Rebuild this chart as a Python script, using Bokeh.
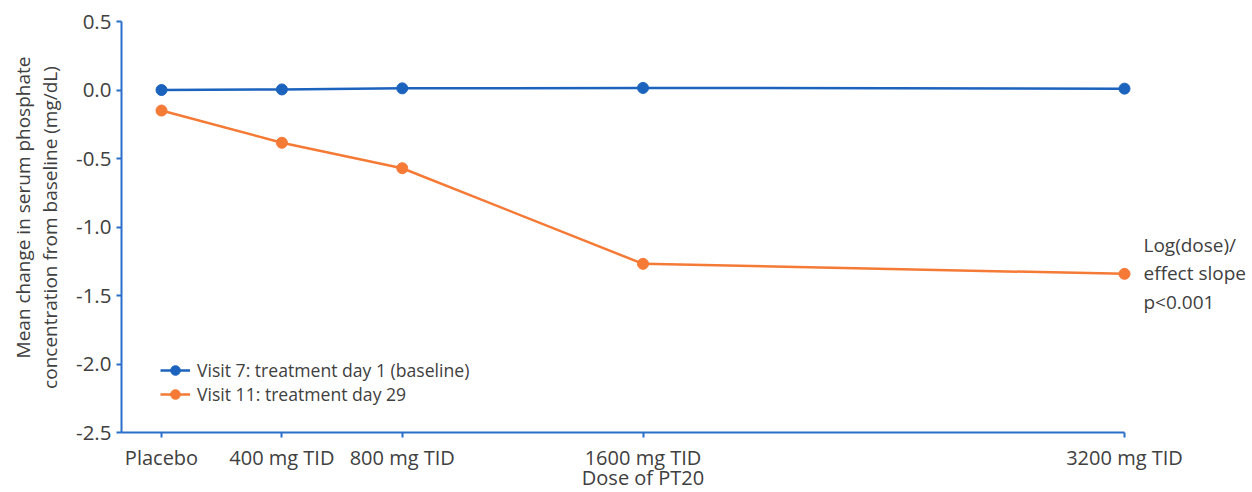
import math
from bokeh.plotting import figure
from bokeh.models import FixedTicker, Label, Legend, LegendItem, Range1d
from bokeh.embed import file_html
from bokeh.resources import INLINE

doses = [0, 400, 800, 1600, 3200]
tick_labels = ["Placebo", "400 mg TID", "800 mg TID", "1600 mg TID", "3200 mg TID"]
visit7 = [0.0, 0.004, 0.012, 0.015, 0.01]
visit11 = [-0.15, -0.385, -0.571, -1.269, -1.342]
y_ticks = [0.5, 0.0, -0.5, -1.0, -1.5, -2.0, -2.5]
y_tick_labels = ["0.5", "0.0", "-0.5", "-1.0", "-1.5", "-2.0", "-2.5"]
series_names = ["Visit 7: treatment day 1 (baseline)", "Visit 11: treatment day 29"]
annotation = "Log(dose)/\neffect slope\np<0.001"
x_title = "Dose of PT20"
y_title_lines = ["Mean change in serum phosphate", "concentration from baseline (mg/dL)"]

BLUE = "#1c63bd"
AXIS_BLUE = "#2a6fca"
ORANGE = "#f47a36"
TEXT = "#404040"
FONT = "Open Sans"

W, H = 1250, 492
K = 0.30094          # px per mg
X_LO = -535.0        # data x at the left edge of the canvas
Y_HI = 0.5 + 21 / 137.0
Y_LO = 0.5 - 471 / 137.0
X_AXIS_POS = -133.0  # where the y axis line sits (data x)

p = figure(width=W, height=H, output_backend="svg", toolbar_location=None,
           x_range=Range1d(X_LO, X_LO + W / K), y_range=Range1d(Y_LO, Y_HI),
           min_border=0, min_border_left=0, min_border_right=0,
           min_border_top=0, min_border_bottom=0)
p.outline_line_color = None
p.xgrid.visible = False
p.ygrid.visible = False

for ax in (p.xaxis[0], p.yaxis[0]):
    ax.axis_line_color = AXIS_BLUE
    ax.axis_line_width = 2
    ax.major_tick_line_color = AXIS_BLUE
    ax.major_tick_line_width = 2
    ax.major_tick_in = 0
    ax.major_tick_out = 5
    ax.minor_tick_line_color = None
    ax.major_label_text_color = TEXT
    ax.major_label_text_font = FONT
    ax.major_label_text_font_size = "20px"

xa = p.xaxis[0]
xa.fixed_location = y_ticks[-1]
xa.bounds = (X_AXIS_POS, doses[-1])
xa.ticker = FixedTicker(ticks=doses)
xa.major_label_overrides = {d: t for d, t in zip(doses, tick_labels)}
xa.major_label_standoff = 6

ya = p.yaxis[0]
ya.fixed_location = X_AXIS_POS
ya.bounds = (y_ticks[-1], y_ticks[0])
ya.ticker = FixedTicker(ticks=y_ticks)
ya.major_label_overrides = {v: t for v, t in zip(y_ticks, y_tick_labels)}
ya.major_label_standoff = 5
ya.major_label_text_font_size = "20.5px"

l1 = p.line(doses, visit7, line_color=BLUE, line_width=2.5)
c1 = p.scatter(doses, visit7, size=11, fill_color=BLUE, line_color=BLUE)
l2 = p.line(doses, visit11, line_color=ORANGE, line_width=2.5)
c2 = p.scatter(doses, visit11, size=11, fill_color=ORANGE, line_color=ORANGE)

legend = Legend(items=[LegendItem(label=series_names[0], renderers=[l1, c1]),
                       LegendItem(label=series_names[1], renderers=[l2, c2])],
                location=(160, 86), border_line_color=None, background_fill_alpha=0,
                padding=0, margin=0, spacing=0, glyph_width=30, glyph_height=24,
                label_standoff=7, label_text_font=FONT, label_text_font_size="17.6px",
                label_text_color=TEXT, label_height=24)
p.add_layout(legend)

# annotation to the right of the last dose
p.add_layout(Label(x=3263, y=-1.339, text=annotation, text_font=FONT, text_font_size="19px",
                   text_color=TEXT, text_align="left", text_baseline="middle",
                   text_line_height=1.1))
# x-axis title, centred under the 1600 mg tick as in the reference
p.add_layout(Label(x=1600, y=0.5 - 456 / 137.0, text=x_title, text_font=FONT,
                   text_font_size="20px", text_color=TEXT, text_align="center",
                   text_baseline="middle"))
# y-axis title, two rotated lines
p.add_layout(Label(x=(22 - 161) / K, y=0.5 - 186 / 137.0, text=y_title_lines[0],
                   angle=math.pi / 2, text_font=FONT, text_font_size="19px",
                   text_color=TEXT, text_align="center", text_baseline="middle"))
p.add_layout(Label(x=(49 - 161) / K, y=0.5 - 206 / 137.0, text=y_title_lines[1],
                   angle=math.pi / 2, text_font=FONT, text_font_size="19px",
                   text_color=TEXT, text_align="center", text_baseline="middle"))

open("out.html", "w").write(file_html(p, INLINE))
